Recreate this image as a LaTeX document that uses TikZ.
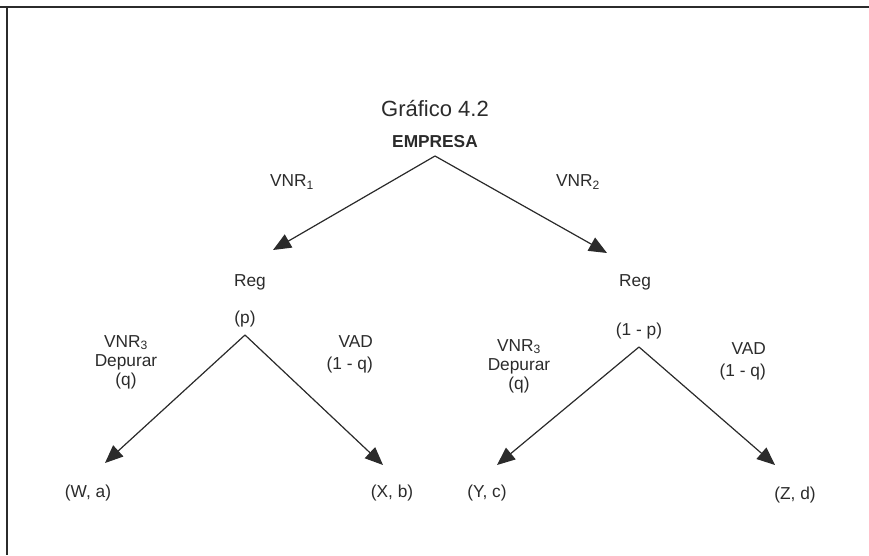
\documentclass[tikz,border=0pt]{standalone}
\usepackage{fontspec}
\setmainfont{Liberation Sans}
\usetikzlibrary{arrows.meta}
\definecolor{ink}{HTML}{2B2B2B}
\tikzset{
  lbl/.style={inner sep=0pt,text=ink,font=\fontsize{17.3}{19}\selectfont},
  branch/.style={draw=ink,fill=ink,line width=1.2pt,-{Triangle[length=18pt,width=15pt]}},
}
\begin{document}
\begin{tikzpicture}[x=1pt,y=-1pt]
  \useasboundingbox (0,0) rectangle (869,555);
  % frame (only top and left edges show)
  \draw[ink,line width=1.5pt] (0,7) -- (869,7);
  \draw[ink,line width=1.5pt] (7,7) -- (7,555);
  \node[lbl,font=\fontsize{22}{26}\selectfont] (title) at (435,109) {Gráfico 4.2};
  \node[lbl,above,inner sep=8pt,font=\fontsize{17.3}{19}\selectfont\bfseries] (empresa) at (435,156) {EMPRESA};
  % first level
  \node[lbl] (vnr1) at (292,182) {VNR\textsubscript{1}};
  \node[lbl] (vnr2) at (578,182) {VNR\textsubscript{2}};
  \node[lbl] (reg1) at (250,282) {Reg};
  \node[lbl] (reg2) at (635,282) {Reg};
  \node[lbl,above,inner sep=8pt] (p1) at (245,335) {(p)};
  \node[lbl,above,inner sep=8pt] (p2) at (639,347) {(1 - p)};
  \coordinate (treg1) at (273,250);
  \coordinate (treg2) at (607,253);
  % second level labels
  \node[lbl,align=center] (dep1) at (126,362) {VNR\textsubscript{3}\\Depurar\\(q)};
  \node[lbl,align=center] (dep2) at (519,366) {VNR\textsubscript{3}\\Depurar\\(q)};
  \node[lbl,align=right,anchor=east,font=\fontsize{17.3}{22}\selectfont] (vad1) at (373,354) {VAD\\(1 - q)};
  \node[lbl,align=right,anchor=east,font=\fontsize{17.3}{22}\selectfont] (vad2) at (766,361) {VAD\\(1 - q)};
  % outcomes
  \foreach \n/\x/\y/\t in {wa/88/493/{(W, a)}, xb/392/493/{(X, b)}, yc/487/493/{(Y, c)}, zd/795/495/{(Z, d)}}
    \node[lbl] (\n) at (\x,\y) {\t};
  \coordinate (twa) at (105,463);
  \coordinate (txb) at (383,465);
  \coordinate (tyc) at (497,465);
  \coordinate (tzd) at (775,465);
  \draw[branch] (empresa.south) -- (treg1);
  \draw[branch] (empresa.south) -- (treg2);
  \draw[branch] (p1.south) -- (twa);
  \draw[branch] (p1.south) -- (txb);
  \draw[branch] (p2.south) -- (tyc);
  \draw[branch] (p2.south) -- (tzd);
\end{tikzpicture}
\end{document}
